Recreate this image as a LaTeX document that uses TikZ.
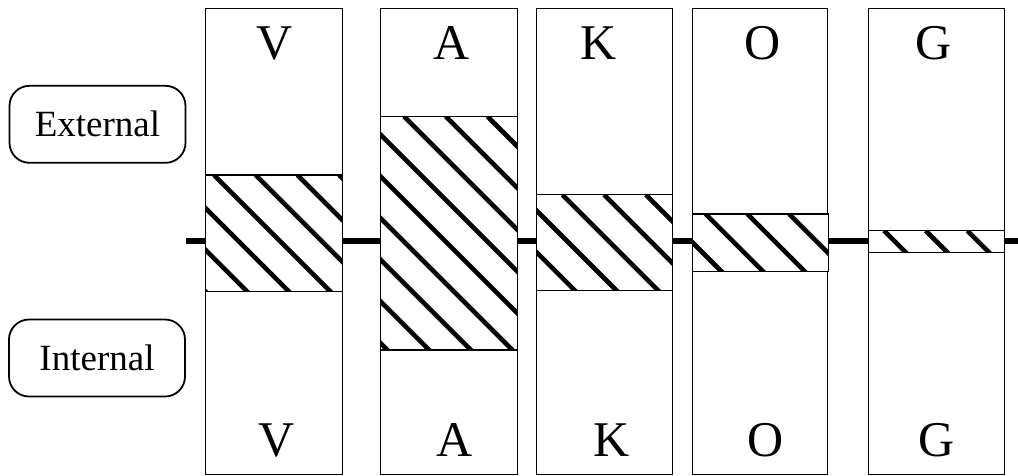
\documentclass[tikz,border=0pt]{standalone}
\usepackage{fontspec}
\setmainfont{Liberation Serif}
\usetikzlibrary{calc}
\tikzset{hatchline/.style={line width=4.6pt, line cap=butt}}
\begin{document}
\begin{tikzpicture}[x=1pt,y=-1pt,
  column/.style={draw, fill=white, line width=1.3pt, inner sep=0pt,
    anchor=north west, minimum height=466pt},
  band/.style={draw, fill=white, line width=1.4pt, inner sep=0pt,
    anchor=north west,
    path picture={
      \foreach \k in {-7,...,4}
        \draw[hatchline]
          ([xshift={(#1+\k*41.7)*1pt}]path picture bounding box.north west)
          -- ++(300,300);
    }},
  letter/.style={font=\fontsize{50}{50}\selectfont, anchor=base, inner sep=0pt},
  tag/.style={draw, rounded corners=20pt, line width=1.8pt, inner sep=0pt,
    minimum width=176pt, minimum height=77pt,
    font=\fontsize{37}{37}\selectfont},
  axis/.style={line width=5.5pt}
]
\useasboundingbox (0,0) rectangle (1018,475);

% horizontal boundary line behind the columns
\coordinate (axL) at (186,241);
\coordinate (axR) at (1018,241);
\draw[axis] (axL) -- (axR);

% columns
\node (colV) [column, minimum width=137pt] at (205,8) {};
\node (colA) [column, minimum width=136.5pt] at (380,8) {};
\node (colK) [column, minimum width=136pt] at (536,8) {};
\node (colO) [column, minimum width=135pt] at (692,8) {};
\node (colG) [column, minimum width=136pt] at (868,8) {};

% hatched bands
\node (bandV) [band=8.3, minimum width=137pt, minimum height=116.7pt] at (205,174.3) {};
\node (bandA) [band=23.3, minimum width=137pt, minimum height=233.6pt] at (380,115.7) {};
\node (bandK) [band=25.7, minimum width=136pt, minimum height=96pt] at (536,194) {};
\node (bandO) [band=13, minimum width=136pt, minimum height=57.7pt] at (692,213.3) {};
\node (bandG) [band=15.3, minimum width=136pt, minimum height=21.7pt] at (868,230) {};

% column letters, top row
\node (tV) [letter] at (275,59) {V};
\node (tA) [letter] at (452,59) {A};
\node (tK) [letter] at (599,59) {K};
\node (tO) [letter] at (763,59) {O};
\node (tG) [letter] at (934,59) {G};

% column letters, bottom row
\node (bV) [letter] at (277,456) {V};
\node (bA) [letter] at (455,456) {A};
\node (bK) [letter] at (612,456) {K};
\node (bO) [letter] at (766,456) {O};
\node (bG) [letter] at (937,456) {G};

% side tags
\node (ext) [tag] at (97.5,124.3) {External};
\node (int) [tag] at (97,358) {Internal};
\end{tikzpicture}
\end{document}
